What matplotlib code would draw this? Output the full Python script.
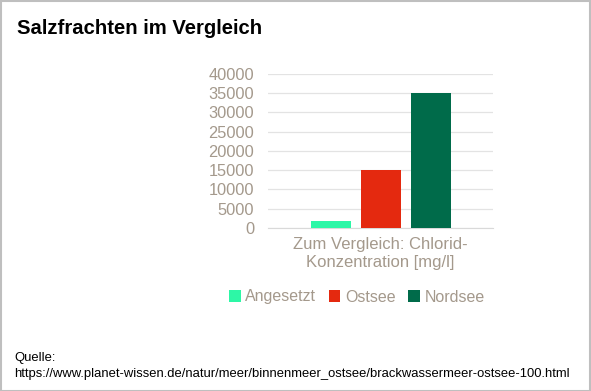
import matplotlib
matplotlib.use("Agg")
import matplotlib.pyplot as plt
from matplotlib.patches import Patch, Rectangle

# data
category = "Zum Vergleich: Chlorid-\nKonzentration [mg/l]"
series = ["Angesetzt", "Ostsee", "Nordsee"]
values = [1800, 15000, 35000]
colors = ["#2DF7A6", "#E4290F", "#006B4A"]
yticks = [0, 5000, 10000, 15000, 20000, 25000, 30000, 35000, 40000]

plt.rcParams["font.family"] = ["Liberation Sans", "DejaVu Sans"]
text_grey = "#A4998C"

fig = plt.figure(figsize=(5.91, 3.91), dpi=100)
fig.patch.set_facecolor("white")
# thin grey frame round the whole picture
fig.add_artist(Rectangle((0.001, 0.001), 0.997, 0.996, transform=fig.transFigure,
                         fill=False, edgecolor="#BFBFBF", linewidth=1.5))

ax = fig.add_axes([0.4535, 0.4176, 0.381, 0.3931])

width = 0.178
offsets = [-0.222, 0.0, 0.222]
for name, val, col, off in zip(series, values, colors, offsets):
    ax.bar(off, val, width=width, color=col, label=name, zorder=3)

ax.set_xlim(-0.5, 0.5)
ax.set_ylim(0, 40000)
ax.set_yticks(yticks)
ax.set_yticklabels([str(t) for t in yticks])
ax.set_xticks([0])
ax.set_xticklabels([category], linespacing=1.25)
ax.tick_params(axis="y", length=0, labelsize=11.8, colors=text_grey, pad=10)
ax.tick_params(axis="x", length=0, labelsize=12, colors=text_grey, pad=7)
ax.grid(axis="y", color="#E3E3E3", linewidth=0.9, zorder=0)
for s in ["top", "right", "left"]:
    ax.spines[s].set_visible(False)
ax.spines["bottom"].set_color("#D9D9D9")

handles = [Patch(facecolor=c, edgecolor="none") for c in colors]
leg = fig.legend(handles, series, loc="center", ncol=3, frameon=False,
                 bbox_to_anchor=(357 / 591, 1 - 297 / 391), fontsize=11.5,
                 handlelength=0.7, handleheight=0.7, handletextpad=0.3,
                 columnspacing=0.8)
for t in leg.get_texts():
    t.set_color(text_grey)

fig.text(17 / 591, 1 - 28 / 391, "Salzfrachten im Vergleich", fontsize=14.6,
         fontweight="bold", va="center", ha="left", color="black")
fig.text(14 / 591, 1 - 358 / 391, "Quelle:", fontsize=9.4, va="center", ha="left")
fig.text(14 / 591, 1 - 374 / 391,
         "https://www.planet-wissen.de/natur/meer/binnenmeer_ostsee/brackwassermeer-ostsee-100.html",
         fontsize=9.4, va="center", ha="left")

fig.savefig("out.png", dpi=100, facecolor="white")
